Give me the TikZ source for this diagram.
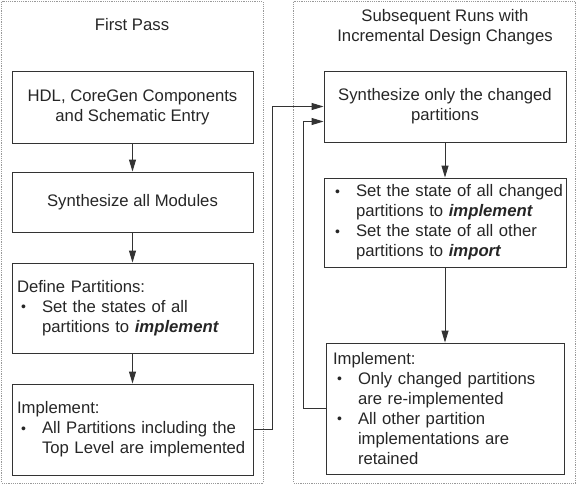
\documentclass[tikz,border=0pt]{standalone}
\usepackage{fontspec}
\setmainfont{Liberation Sans}
\usetikzlibrary{calc}
\usetikzlibrary{arrows.meta}

\newcommand{\blt}[1]{\mbox{\makebox[25pt][l]{\hspace{4pt}\raisebox{0.8pt}{\fontsize{14pt}{14pt}\selectfont\textbullet}}#1}}
\newcommand{\ind}[1]{\mbox{\hspace*{25pt}#1}}

\tikzset{
  panel/.style={draw=black!40, dash pattern=on 1.2pt off 1pt, line width=0.6pt},
  flowbox/.style={draw=black!80, line width=0.9pt, inner ysep=0pt, inner xsep=5pt},
  flowarrow/.style={draw=black!80, line width=0.9pt, -{Triangle[length=12pt,width=7pt]}},
}

\begin{document}
\begin{tikzpicture}[x=1pt, y=-1pt, every node/.style={font=\fontsize{16.7pt}{20pt}\selectfont, text=black!85}]
\useasboundingbox (0,0) rectangle (577,485);

\draw[panel] (1.5,1.5) rectangle (263,483);
\draw[panel] (293.5,1.5) rectangle (575.5,483);

\node (T1) at (132, 25) {First Pass};
\node[align=center] (T2) at (445, 27) {Subsequent Runs with\\Incremental Design Changes};

\node[flowbox, minimum width=241pt, minimum height=72pt, align=center] (H) at (132.5, 107) {HDL, CoreGen Components\\and Schematic Entry};
\node[flowbox, minimum width=241pt, minimum height=60pt] (S) at (132.5, 202) {Synthesize all Modules};
\node[flowbox, text width=231pt, minimum height=90pt, align=left] (D) at (132.5, 308) {Define Partitions:\\\blt{Set the states of all}\\\ind{partitions to \textbf{\textit{implement}}}};
\node[flowbox, text width=231pt, minimum height=91pt, align=left] (I) at (132.5, 429.5) {Implement:\\\blt{All Partitions including the}\\\ind{Top Level are implemented}};

\node[flowbox, minimum width=242pt, minimum height=71pt, align=center] (R1) at (445, 106.5) {Synthesize only the changed\\partitions};
\node[flowbox, inner xsep=7pt, text width=228pt, minimum height=89pt, align=left] (R2) at (445, 222.5) {\blt{Set the state of all changed}\\\ind{partitions to \textbf{\textit{implement}}}\\\blt{Set the state of all other}\\\ind{partitions to \textbf{\textit{import}}}};
\node[flowbox, inner xsep=7pt, text width=224pt, minimum height=131pt, align=left] (R3) at (445, 408.5) {Implement:\\\blt{Only changed partitions}\\\ind{are re-implemented}\\\blt{All other partition}\\\ind{implementations are}\\\ind{retained}};

\draw[flowarrow] (H) -- (S);
\draw[flowarrow] (S) -- (D);
\draw[flowarrow] (D) -- (I);
\draw[flowarrow] (R1) -- (R2);
\draw[flowarrow] (R2) -- (R3);

\draw[flowarrow] (I.east) -- ++(19,0) |- (R1.west);
\draw[flowarrow] (R3.west) -- ++(-22,0) |- ($(R1.west)+(0,15)$);
\end{tikzpicture}
\end{document}
